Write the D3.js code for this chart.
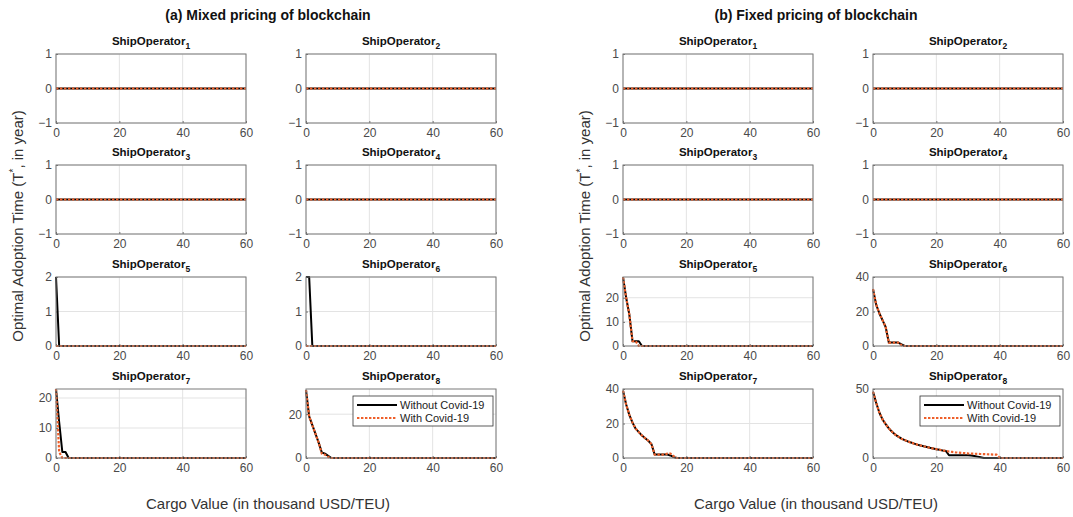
<!DOCTYPE html>
<html>
<head>
<meta charset="utf-8">
<script src="https://cdn.jsdelivr.net/npm/d3@7"></script>
<style>
  html, body { margin: 0; padding: 0; background: #fff; }
  svg { display: block; font-family: "Liberation Sans", Arial, Helvetica, sans-serif; }
</style>
</head>
<body>
<svg id="chart" width="1073" height="517"></svg>
<script>
// Cargo value grid (thousand USD/TEU)
const cargo = d3.range(0, 61);

const groupTitles = ["(a) Mixed pricing of blockchain", "(b) Fixed pricing of blockchain"];
const seriesNames = ["Without Covid-19", "With Covid-19"];
const xTicks = [0, 20, 40, 60];

// Optimal adoption time, leading values; the rest of each curve stays at 0.
// Mixed pricing
const mixedWithout5 = [2, 0];
const mixedWith5 = [0];
const mixedWithout6 = [2, 2, 0];
const mixedWith6 = [0];
const mixedWithout7 = [23, 12, 2, 2, 0];
const mixedWith7 = [23, 2, 0];
const mixedWithout8 = [31, 19, 15, 11, 7, 2.5, 2, 1, 0];
const mixedWith8 = [31, 19, 15, 11, 7, 2, 1.5, 0.5, 0];
// Fixed pricing
const fixedWithout5 = [28.5, 20, 13, 2, 2, 2, 0];
const fixedWith5 = [28.5, 20, 13, 2, 2, 0];
const fixedWithout6 = [33, 24, 19, 15, 11, 2, 2, 2, 2, 1, 0];
const fixedWith6 = [33, 24, 19, 15, 11, 2, 2, 2, 2, 0.5, 0];
const fixedWithout7 = [39, 31, 25, 20.5, 17, 15, 13, 11.5, 10, 8, 2, 2, 2, 2, 2, 1.5, 0.5, 0];
const fixedWith7 = [39, 31, 25, 20.5, 17, 15, 13, 11.5, 10, 8, 2, 2, 2, 2, 2.5, 2.5, 1, 0];
const fixedWithout8 = [48, 40, 33, 28, 24.5, 21.5, 19, 17, 15.5, 14, 13, 12, 11.2, 10.4, 9.7, 9.1, 8.5, 8, 7.4, 6.9, 6.4, 6, 5.5, 5.1,
  2, 2, 2, 2, 2, 2, 2, 1.8, 1.5, 1, 0.5, 0];
const fixedWith8 = [48, 40, 33, 28, 24.5, 21.5, 19, 17, 15.5, 14, 13, 12, 11.2, 10.4, 9.7, 9.1, 8.5, 8, 7.4, 6.9, 6.4, 6, 5.5, 5.1,
  4.7, 4.4, 4.1, 3.9, 3.7, 3.5, 3.3, 3.2, 3.1, 3, 2.9, 2.8, 2.7, 2.6, 2.5, 2.4, 0];
const zeroCurve = [0];

// y-axis limits and tick labels per operator
const mixedYDomain = [[-1, 1], [-1, 1], [-1, 1], [-1, 1], [0, 2], [0, 2], [0, 23], [0, 31.5]];
const mixedYTicks = [[-1, 0, 1], [-1, 0, 1], [-1, 0, 1], [-1, 0, 1], [0, 1, 2], [0, 1, 2], [0, 10, 20], [0, 20]];
const fixedYDomain = [[-1, 1], [-1, 1], [-1, 1], [-1, 1], [0, 28.6], [0, 40], [0, 40], [0, 50]];
const fixedYTicks = [[-1, 0, 1], [-1, 0, 1], [-1, 0, 1], [-1, 0, 1], [0, 10, 20], [0, 20, 40], [0, 20, 40], [0, 50]];

const mixedSeries = [
  [zeroCurve, zeroCurve], [zeroCurve, zeroCurve], [zeroCurve, zeroCurve], [zeroCurve, zeroCurve],
  [mixedWithout5, mixedWith5], [mixedWithout6, mixedWith6], [mixedWithout7, mixedWith7], [mixedWithout8, mixedWith8]
];
const fixedSeries = [
  [zeroCurve, zeroCurve], [zeroCurve, zeroCurve], [zeroCurve, zeroCurve], [zeroCurve, zeroCurve],
  [fixedWithout5, fixedWith5], [fixedWithout6, fixedWith6], [fixedWithout7, fixedWith7], [fixedWithout8, fixedWith8]
];

const groups = [
  { title: groupTitles[0], series: mixedSeries, yDomain: mixedYDomain, yTicks: mixedYTicks, left: [56, 306], center: 268 },
  { title: groupTitles[1], series: fixedSeries, yDomain: fixedYDomain, yTicks: fixedYTicks, left: [623, 873], center: 816 }
];

const rowTop = [54, 165, 277, 389];
const panelW = 190, panelH = 69;
const lineColors = ["#000000", "#ee5f2a"];
const tickFormat = d3.format("d");

const svg = d3.select("#chart");

function fullCurve(lead) {
  return cargo.map((c, i) => ({ x: c, y: i < lead.length ? lead[i] : 0 }));
}

groups.forEach(g => {
  // group title
  svg.append("text")
    .attr("x", g.center).attr("y", 20)
    .attr("text-anchor", "middle")
    .attr("font-size", 14).attr("font-weight", "bold").attr("fill", "#111")
    .text(g.title);

  // y-axis label
  const yl = svg.append("text")
    .attr("transform", `translate(${g.left[0] - 33},${226}) rotate(-90)`)
    .attr("text-anchor", "middle")
    .attr("font-size", 15).attr("fill", "#333");
  yl.append("tspan").text("Optimal Adoption Time (T");
  yl.append("tspan").attr("dy", -6).attr("font-size", 10).text("*");
  yl.append("tspan").attr("dy", 6).text(", in year)");

  // x-axis label
  svg.append("text")
    .attr("x", g.center).attr("y", 509)
    .attr("text-anchor", "middle")
    .attr("font-size", 15).attr("fill", "#333")
    .text("Cargo Value (in thousand USD/TEU)");

  for (let k = 0; k < 8; k++) {
    const row = Math.floor(k / 2), col = k % 2;
    const x0 = g.left[col], y0 = rowTop[row];
    const x = d3.scaleLinear().domain([0, 60]).range([0, panelW]);
    const y = d3.scaleLinear().domain(g.yDomain[k]).range([panelH, 0]);
    const p = svg.append("g").attr("transform", `translate(${x0},${y0})`);

    // panel title with subscript
    const t = p.append("text")
      .attr("x", panelW / 2).attr("y", -9)
      .attr("text-anchor", "middle")
      .attr("font-size", 11.5).attr("font-weight", "bold").attr("fill", "#111");
    t.append("tspan").text("ShipOperator");
    t.append("tspan").attr("dy", 4).attr("font-size", 8.5).text(String(k + 1));

    // background
    p.append("rect").attr("width", panelW).attr("height", panelH).attr("fill", "#fff");

    // grid
    p.append("g").selectAll("line").data(xTicks).join("line")
      .attr("x1", d => x(d)).attr("x2", d => x(d))
      .attr("y1", 0).attr("y2", panelH)
      .attr("stroke", "#e3e3e3").attr("stroke-width", 1);
    p.append("g").selectAll("line").data(g.yTicks[k]).join("line")
      .attr("x1", 0).attr("x2", panelW)
      .attr("y1", d => y(d)).attr("y2", d => y(d))
      .attr("stroke", "#e3e3e3").attr("stroke-width", 1);

    // axes
    const xAxis = d3.axisBottom(x).tickValues(xTicks).tickFormat(tickFormat)
      .tickSizeInner(-2).tickSizeOuter(0).tickPadding(5);
    const yAxis = d3.axisLeft(y).tickValues(g.yTicks[k]).tickFormat(tickFormat)
      .tickSizeInner(-2).tickSizeOuter(0).tickPadding(4);
    const xa = p.append("g").attr("transform", `translate(0,${panelH})`).call(xAxis);
    const ya = p.append("g").call(yAxis);
    [xa, ya].forEach(a => {
      a.select(".domain").remove();
      a.selectAll(".tick line").attr("stroke", "#6f6f6f");
      a.selectAll(".tick text").attr("font-size", 12).attr("fill", "#4a4a4a")
        .attr("font-family", "Liberation Sans, Arial, sans-serif");
    });

    // lines
    const line = d3.line().x(d => x(d.x)).y(d => y(d.y));
    const [s1, s2] = g.series[k];
    p.append("path").datum(fullCurve(s1))
      .attr("d", line).attr("fill", "none")
      .attr("stroke", lineColors[0]).attr("stroke-width", 2).attr("stroke-linejoin", "round");
    p.append("path").datum(fullCurve(s2))
      .attr("d", line).attr("fill", "none")
      .attr("stroke", lineColors[1]).attr("stroke-width", 2.2).attr("stroke-dasharray", "2.4,1.6");

    // box
    p.append("rect").attr("width", panelW).attr("height", panelH)
      .attr("fill", "none").attr("stroke", "#7a7a7a").attr("stroke-width", 1);

    // legend on the last operator
    if (k === 7) {
      const lx = 47, ly = 7, lw = 140, lh = 30;
      const lg = p.append("g").attr("transform", `translate(${lx},${ly})`);
      lg.append("rect").attr("width", lw).attr("height", lh)
        .attr("fill", "#fff").attr("stroke", "#333").attr("stroke-width", 0.8);
      seriesNames.forEach((name, i) => {
        const yy = 9 + i * 13;
        lg.append("line").attr("x1", 4).attr("x2", 44).attr("y1", yy).attr("y2", yy)
          .attr("stroke", lineColors[i]).attr("stroke-width", 2)
          .attr("stroke-dasharray", i === 1 ? "2.4,1.6" : null);
        lg.append("text").attr("x", 47).attr("y", yy + 4)
          .attr("font-size", 11).attr("fill", "#222").text(name);
      });
    }
  }
});
</script>
</body>
</html>
